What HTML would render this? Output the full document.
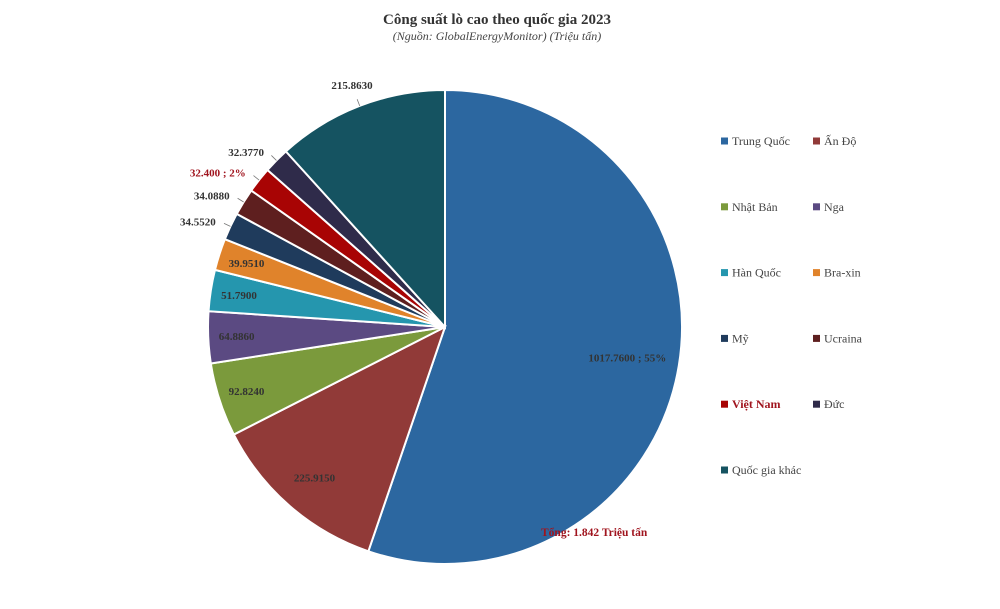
<!DOCTYPE html>
<html><head><meta charset="utf-8">
<style>
body{margin:0;background:#fff;}
svg{display:block;font-family:"Liberation Serif","DejaVu Serif",serif;}
</style></head>
<body>
<svg id="chart" width="1000" height="609" viewBox="0 0 1000 609">
<text x="497" y="24" text-anchor="middle" font-size="15" font-weight="bold" fill="#333">Công suất lò cao theo quốc gia 2023</text>
<text x="497" y="40" text-anchor="middle" font-size="12" font-style="italic" fill="#444">(Nguồn: GlobalEnergyMonitor) (Triệu tấn)</text>
<g id="slices"></g>
<g id="labels"></g>
<g id="legend"></g>
<text x="541" y="536" font-size="11.5" font-weight="bold" fill="#a0141e">Tổng: 1.842 Triệu tấn</text>
</svg>
<script>
const categories=["Trung Quốc","Ấn Độ","Nhật Bản","Nga","Hàn Quốc","Bra-xin","Mỹ","Ucraina","Việt Nam","Đức","Quốc gia khác"];
const values=[1017.76,225.915,92.824,64.886,51.79,39.951,34.552,34.088,32.4,32.377,215.863];
const valueLabels=["1017.7600 ; 55%","225.9150","92.8240","64.8860","51.7900","39.9510","34.5520","34.0880","32.400 ; 2%","32.3770","215.8630"];
const colors=["#2c67a0","#913a38","#7b9a3c","#5b4a82","#2596ae","#e0832b","#1f3b5c","#5e1f1f","#a80404","#2f2b4a","#155361"];
const NS="http://www.w3.org/2000/svg";
const cx=445,cy=327,R=237;
const total=values.reduce((a,b)=>a+b,0);
const sg=document.getElementById('slices'),lg=document.getElementById('labels'),leg=document.getElementById('legend');
function pt(a,r){return [cx+r*Math.sin(a),cy-r*Math.cos(a)];}
let acc=0;
values.forEach((v,i)=>{
  const a0=acc/total*2*Math.PI; acc+=v; const a1=acc/total*2*Math.PI;
  const p0=pt(a0,R),p1=pt(a1,R);
  const large=(a1-a0)>Math.PI?1:0;
  const p=document.createElementNS(NS,'path');
  p.setAttribute('d',`M${cx},${cy}L${p0[0]},${p0[1]}A${R},${R} 0 ${large} 1 ${p1[0]},${p1[1]}Z`);
  p.setAttribute('fill',colors[i]);p.setAttribute('stroke','#fff');p.setAttribute('stroke-width','2');
  
  
  sg.appendChild(p);
  const am=(a0+a1)/2,frac=v/total;
  const t=document.createElementNS(NS,'text');
  t.setAttribute('font-size','11');t.setAttribute('font-weight','bold');
  t.setAttribute('fill',i===8?'#a0141e':'#333');
  let q;
  if(i>=6){
    const e=pt(am,R),s=pt(am,R*1.03);
    if(i===10){q=pt(am,R*1.09);t.setAttribute('text-anchor','middle');q[1]-=1;}
    else{q=pt(am,R*1.05);t.setAttribute('text-anchor','end');q[0]-=4;}
    const l=document.createElementNS(NS,'line');
    l.setAttribute('x1',e[0]);l.setAttribute('y1',e[1]);l.setAttribute('x2',s[0]);l.setAttribute('y2',s[1]);
    l.setAttribute('stroke','#777');l.setAttribute('stroke-width','0.8');
    
    
    lg.appendChild(l);
  }else{
    q=pt(am,R*(frac<0.06?0.88:(i===1?0.84:0.78)));
    t.setAttribute('text-anchor','middle');
  }
  t.setAttribute('x',q[0]);t.setAttribute('y',q[1]+4);
  t.textContent=valueLabels[i];
  
  
  lg.appendChild(t);
  const col=i%2,row=Math.floor(i/2);
  const lx=col?813:721,ly=141+row*65.8;
  const r=document.createElementNS(NS,'rect');
  r.setAttribute('x',lx);r.setAttribute('y',ly-3.5);r.setAttribute('width',7);r.setAttribute('height',7);r.setAttribute('fill',colors[i]);
  
  
  leg.appendChild(r);
  const lt=document.createElementNS(NS,'text');
  lt.setAttribute('x',lx+11);lt.setAttribute('y',ly+4);lt.setAttribute('font-size','12');
  lt.setAttribute('fill',i===8?'#a0141e':'#444');
  if(i===8)lt.setAttribute('font-weight','bold');
  lt.textContent=categories[i];
  
  
  leg.appendChild(lt);
});
</script>
</body></html>
